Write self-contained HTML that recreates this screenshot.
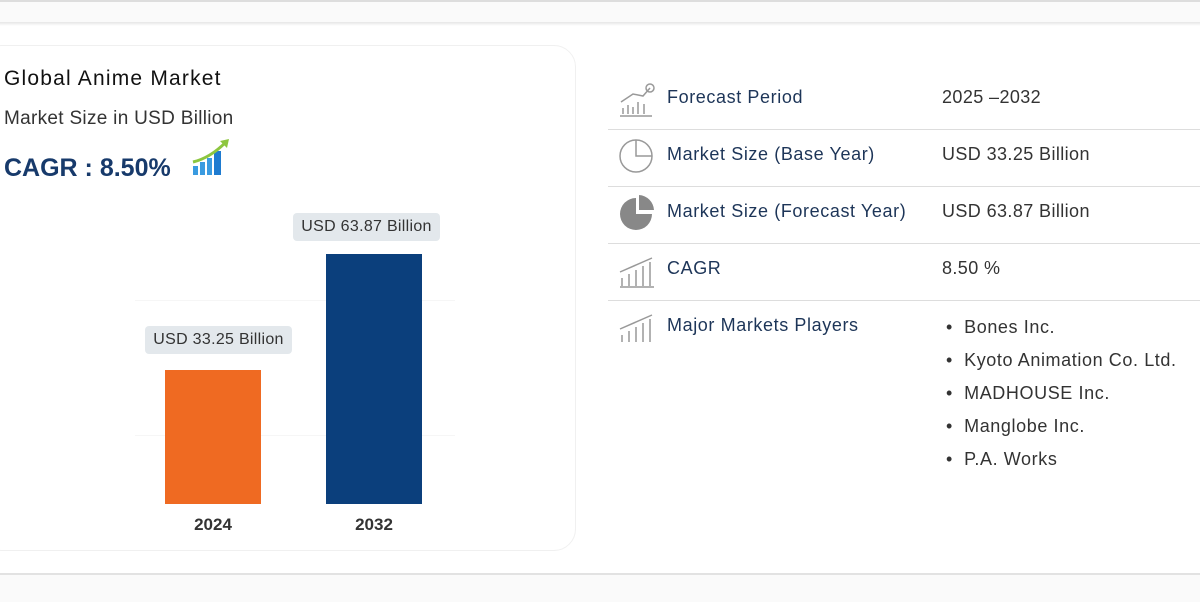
<!DOCTYPE html>
<html><head><meta charset="utf-8"><style>
body{margin:0;width:1200px;height:600px;background:#fff;font-family:"Liberation Sans",sans-serif;position:relative;overflow:hidden}
.a{position:absolute}
.lbl{position:absolute;left:667px;font-size:18px;color:#1d3558;letter-spacing:0.6px}
.val{position:absolute;left:942px;font-size:18px;color:#333;letter-spacing:0.4px}
.sep{position:absolute;left:608px;width:592px;height:1px;background:#ddd}
.tip{position:absolute;background:#e3e8ec;border-radius:4px;font-size:16px;color:#333;text-align:center;line-height:28px;height:28px;letter-spacing:0.3px}
.li{position:absolute;left:946px;font-size:18px;color:#333;letter-spacing:0.6px}
</style></head><body>
<div class="a" style="left:0;top:0;width:1200px;height:24px;background:#fafafa;border-top:2px solid #ddd;box-sizing:border-box"></div>
<div class="a" style="left:0;top:22px;width:1200px;height:4px;background:linear-gradient(#e6e6e6,#fff)"></div>
<div class="a" style="left:0;top:573px;width:1200px;height:27px;background:#fafafa;border-top:2px solid #e2e2e2"></div>
<div class="a" style="left:-20px;top:45px;width:594px;height:504px;border:1px solid #f0f0f0;border-radius:22px"></div>
<div class="a" style="left:4px;top:67px;font-size:21px;color:#111;letter-spacing:1.2px">Global Anime Market</div>
<div class="a" style="left:4px;top:108px;font-size:19px;color:#333;letter-spacing:0.3px">Market Size in USD Billion</div>
<div class="a" style="left:4px;top:154px;font-size:25px;font-weight:bold;color:#173a6b">CAGR : 8.50%</div>
<svg class="a" style="left:190px;top:136px" width="44" height="44"><rect x="3" y="30" width="5" height="9" fill="#3a9be0"/><rect x="10" y="26" width="5" height="13" fill="#3a9be0"/><rect x="17" y="22" width="5" height="17" fill="#3a9be0"/><rect x="24" y="15" width="7" height="24" fill="#1e7bd0"/><path d="M3 26 Q20 22 36 6" stroke="#8dc63f" stroke-width="3" fill="none"/><path d="M30 5 L39 3 L37 12Z" fill="#8dc63f"/></svg>
<div class="a" style="left:135px;top:300px;width:320px;height:1px;background:#f6f6f6"></div>
<div class="a" style="left:135px;top:435px;width:320px;height:1px;background:#f6f6f6"></div>
<div class="a" style="left:165px;top:370px;width:96px;height:134px;background:#ef6a22"></div>
<div class="a" style="left:326px;top:254px;width:96px;height:250px;background:#0b3f7c"></div>
<div class="tip" style="left:145px;top:326px;width:147px">USD 33.25 Billion</div>
<div class="tip" style="left:293px;top:213px;width:147px">USD 63.87 Billion</div>
<div class="a" style="left:165px;top:515px;width:96px;text-align:center;font-weight:bold;font-size:17px;color:#333">2024</div>
<div class="a" style="left:326px;top:515px;width:96px;text-align:center;font-weight:bold;font-size:17px;color:#333">2032</div>

<svg class="a" style="left:618px;top:82px" width="40" height="260" fill="none" stroke="#999" stroke-width="1.5">
<path d="M2 34 H34 M5 32 v-6 M10 32 v-9 M15 32 v-7 M20 32 v-12 M26 32 v-10 M3 20 L15 12 L25 14 L32 6"/><circle cx="32" cy="6" r="4"/>
<circle cx="18" cy="74" r="16"/><path d="M18 58 V74 H34"/>
<path d="M18 116 A16 16 0 1 0 34 132 H18Z" fill="#888" stroke="none"/><path d="M21 113 A16 16 0 0 1 36 128 H21Z" fill="#888" stroke="none"/>
<path d="M2 205 H36 M4 204 v-8 M11 204 v-12 M18 204 v-16 M25 204 v-20 M32 204 v-24 M2 190 L34 176"/>
<path d="M2 262 H36 M4 261 v-8 M11 261 v-12 M18 261 v-16 M25 261 v-20 M32 261 v-24 M2 247 L34 233"/>
</svg>
<div class="lbl" style="top:87px">Forecast Period</div><div class="val" style="top:87px">2025 –2032</div>
<div class="sep" style="top:129px"></div>
<div class="lbl" style="top:144px">Market Size (Base Year)</div><div class="val" style="top:144px">USD 33.25 Billion</div>
<div class="sep" style="top:186px"></div>
<div class="lbl" style="top:201px">Market Size (Forecast Year)</div><div class="val" style="top:201px">USD 63.87 Billion</div>
<div class="sep" style="top:243px"></div>
<div class="lbl" style="top:258px">CAGR</div><div class="val" style="top:258px">8.50 %</div>
<div class="sep" style="top:300px"></div>
<div class="lbl" style="top:315px">Major Markets Players</div>
<div class="li" style="top:317px">•&nbsp;&nbsp;Bones Inc.</div>
<div class="li" style="top:350px">•&nbsp;&nbsp;Kyoto Animation Co. Ltd.</div>
<div class="li" style="top:383px">•&nbsp;&nbsp;MADHOUSE Inc.</div>
<div class="li" style="top:416px">•&nbsp;&nbsp;Manglobe Inc.</div>
<div class="li" style="top:449px">•&nbsp;&nbsp;P.A. Works</div>
</body></html>
